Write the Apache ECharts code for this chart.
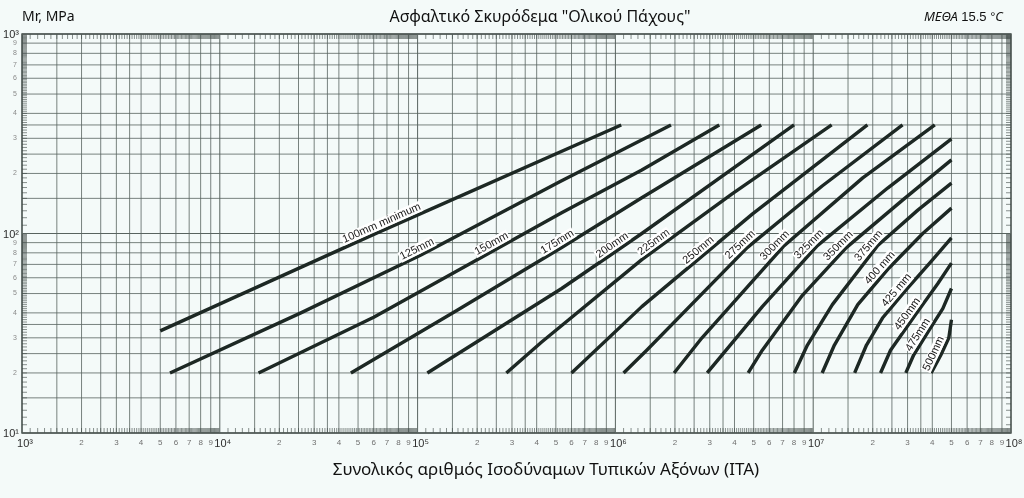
<!DOCTYPE html>
<html lang="el">
<head>
    <meta charset="UTF-8">
    <title>Ασφαλτικό Σκυρόδεμα "Ολικού Πάχους"</title>
    <script src="https://cdn.jsdelivr.net/npm/echarts@6/dist/echarts.min.js"></script>
    <style>
        html, body { margin: 0; padding: 0; background: #f4faf9; }
        #main { width: 1024px; height: 498px; }
    </style>
</head>
<body>
<div id="main"></div>
<script>
    // πάχη ασφαλτικού (ονόματα καμπυλών)
    var thickness = ['100mm minimum', '125mm', '150mm', '175mm', '200mm', '225mm', '250mm', '275mm', '300mm',
        '325mm', '350mm', '375mm', '400 mm', '425 mm', '450mm', '475mm', '500mm'];

    // καμπύλες: [ΙΤΑ, Mr (MPa)], διαβασμένα από το διάγραμμα
    var c100 = [[5000, 32.5], [60000, 99], [1.07e6, 350]];
    var c125 = [[5600, 20], [25700, 40], [1.04e5, 78], [5.2e5, 181], [1.91e6, 350]];
    var c150 = [[15700, 20], [60000, 38], [5.35e5, 127], [1.36e6, 208], [3.35e6, 350]];
    var c175 = [[46000, 20], [1.57e5, 41], [5.35e5, 85], [1.36e6, 151], [5.46e6, 350]];
    var c200 = [[1.12e5, 20], [5.35e5, 53], [1.36e6, 100], [8.0e6, 350]];
    var c225 = [[2.81e5, 20], [4.24e5, 28.6], [1.36e6, 74], [3.89e6, 158], [1.24e7, 350]];
    var c250 = [[6.0e5, 20], [1.36e6, 43], [4.92e6, 125], [1.88e7, 350]];
    var c275 = [[1.10e6, 20], [1.44e6, 26], [4.64e6, 85], [1.11e7, 173], [2.83e7, 350]];
    var c300 = [[1.98e6, 20], [2.74e6, 30], [7.06e6, 86], [1.78e7, 190], [4.12e7, 350]];
    var c325 = [[2.91e6, 20], [5.53e6, 43], [1.05e7, 87], [2.38e7, 169], [5.0e7, 298]];
    var c350 = [[4.69e6, 20], [5.53e6, 26], [8.82e6, 49], [1.47e7, 85], [2.83e7, 147], [5.0e7, 234]];
    var c375 = [[8.03e6, 20], [9.35e6, 27.6], [1.25e7, 44], [2.12e7, 87], [3.38e7, 131], [5.0e7, 179]];
    var c400 = [[1.11e7, 20], [1.28e7, 27.6], [1.68e7, 44], [2.41e7, 67], [3.58e7, 100], [5.0e7, 134]];
    var c425 = [[1.62e7, 20], [1.86e7, 27.6], [2.24e7, 37.7], [2.94e7, 52], [3.93e7, 72], [5.0e7, 95]];
    var c450 = [[2.19e7, 20], [2.46e7, 26], [3.34e7, 40], [4.26e7, 56], [5.0e7, 71]];
    var c475 = [[2.94e7, 20], [3.22e7, 24.6], [3.80e7, 32], [4.52e7, 42], [5.0e7, 53]];
    var c500 = [[3.95e7, 20], [4.42e7, 24.6], [4.85e7, 30], [5.0e7, 37]];
    var curves = [c100, c125, c150, c175, c200, c225, c250, c275, c300,
        c325, c350, c375, c400, c425, c450, c475, c500];

    // θέση (ΙΤΑ) της ετικέτας πάνω σε κάθε καμπύλη
    var labelAtX = [6.8e4, 1.03e5, 2.46e5, 5.31e5, 1.01e6, 1.64e6, 2.77e6, 4.52e6, 6.79e6,
        1.01e7, 1.42e7, 2.03e7, 2.31e7, 2.81e7, 3.20e7, 3.63e7, 4.38e7];

    // άξονες
    var xDecades = [1e3, 1e4, 1e5, 1e6, 1e7, 1e8];
    var xDecadeLabels = ['10³', '10⁴', '10⁵', '10⁶', '10⁷', '10⁸'];
    var yDecades = [10, 100, 1000];
    var yDecadeLabels = ['10¹', '10²', '10³'];
    var digitLabels = ['2', '3', '4', '5', '6', '7', '8', '9'];
    var gridSteps = [1.5, 2, 2.5, 3, 3.5, 4, 5, 6, 7, 8, 9];

    var gridColor = '#58635f';
    var frameColor = '#3c4643';
    var curveColor = '#1d2824';
    var font = '"Liberation Sans", Arial, sans-serif';

    // y τιμή της καμπύλης σε δεδομένο x (γραμμικά σε log-log, μόνο για τις ετικέτες)
    function curveY(pts, x) {
        var lx = Math.log10(x);
        var a0 = Math.log10(pts[0][0]), an = Math.log10(pts[pts.length - 1][0]);
        lx = Math.max(a0, Math.min(an, lx));
        for (var j = 0; j < pts.length - 1; j++) {
            var a = Math.log10(pts[j][0]), b = Math.log10(pts[j + 1][0]);
            if (lx >= a && lx <= b) {
                var t = (lx - a) / (b - a);
                var ya = Math.log10(pts[j][1]), yb = Math.log10(pts[j + 1][1]);
                return Math.pow(10, ya + t * (yb - ya));
            }
        }
        return pts[pts.length - 1][1];
    }

    // χαρτί log-log: γραμμές πλέγματος, χάρακες, αριθμοί αξόνων
    function renderPaper(params, api) {
        var kids = [];
        var lb = api.coord([1e3, 10]), rt = api.coord([1e8, 1000]);
        var L = lb[0], B = lb[1], R = rt[0], T = rt[1];

        function seg(x1, y1, x2, y2, w, c) {
            kids.push({
                type: 'line', silent: true,
                shape: {x1: x1, y1: y1, x2: x2, y2: y2},
                style: {stroke: c, lineWidth: w}
            });
        }

        function txt(x, y, s, size, color, align) {
            kids.push({
                type: 'text', silent: true, x: x, y: y,
                style: {
                    text: s, fill: color, font: size + 'px ' + font,
                    align: align || 'center', verticalAlign: 'middle'
                }
            });
        }

        var i, k, p;
        // κάθετες
        for (i = 0; i < xDecades.length; i++) {
            var d = xDecades[i];
            p = api.coord([d, 10])[0];
            seg(p, T, p, B, 1, gridColor);
            txt(p + 3, B + 11, xDecadeLabels[i], 11, '#2e2e2e');
            if (i === xDecades.length - 1) break;
            gridSteps.forEach(function (s) {
                var q = api.coord([d * s, 10])[0];
                seg(q, T, q, B, 0.8, gridColor);
            });
            digitLabels.forEach(function (t, n) {
                var q = api.coord([d * (n + 2), 10])[0];
                txt(q, B + 10, t, 8, '#6f6f6f');
            });
            for (k = 11; k < 100; k++) {
                p = api.coord([d * k / 10, 10])[0];
                seg(p, B, p, B - 5, 0.6, frameColor);
                seg(p, T, p, T + 5, 0.6, frameColor);
            }
        }
        // οριζόντιες
        for (i = 0; i < yDecades.length; i++) {
            var e = yDecades[i];
            p = api.coord([1e3, e])[1];
            seg(L, p, R, p, 1, gridColor);
            txt(L - 3, p + 1, yDecadeLabels[i], 11, '#2e2e2e', 'right');
            if (i === yDecades.length - 1) break;
            gridSteps.forEach(function (s) {
                var q = api.coord([1e3, e * s])[1];
                seg(L, q, R, q, 0.8, gridColor);
            });
            digitLabels.forEach(function (t, n) {
                var q = api.coord([1e3, e * (n + 2)])[1];
                txt(L - 5, q, t, 7, '#8a8a8a', 'right');
            });
            for (k = 11; k < 100; k++) {
                p = api.coord([1e3, e * k / 10])[1];
                seg(L, p, L + 5, p, 0.6, frameColor);
                seg(R, p, R - 5, p, 0.6, frameColor);
            }
        }
        return {type: 'group', children: kids};
    }

    // ετικέτες πάνω στις καμπύλες, στραμμένες κατά την κλίση
    function renderLabel(params, api) {
        var i = params.dataIndex;
        var x = api.value(0);
        var pts = curves[i];
        var p = api.coord([x, api.value(1)]);
        var p1 = api.coord([x / 1.12, curveY(pts, x / 1.12)]);
        var p2 = api.coord([x * 1.12, curveY(pts, x * 1.12)]);
        var ang = Math.atan2(p1[1] - p2[1], p2[0] - p1[0]);
        var off = 7;
        return {
            type: 'text', silent: true,
            x: p[0] - off * Math.sin(ang),
            y: p[1] - off * Math.cos(ang),
            rotation: ang,
            style: {
                text: thickness[i], fill: '#1a1a1a', font: '11px ' + font,
                align: 'center', verticalAlign: 'middle',
                backgroundColor: '#ffffff', padding: [0, 1]
            }
        };
    }

    var series = [{
        type: 'custom',
        z: 1,
        silent: true,
        renderItem: renderPaper,
        data: [[1e3, 10]]
    }];
    curves.forEach(function (pts, i) {
        series.push({
            name: thickness[i],
            type: 'line',
            z: 3,
            silent: true,
            data: pts,
            smooth: false,
            showSymbol: false,
            symbol: 'none',
            lineStyle: {color: curveColor, width: 3.4, cap: 'butt', join: 'round'}
        });
    });
    series.push({
        type: 'custom',
        z: 5,
        silent: true,
        renderItem: renderLabel,
        data: labelAtX.map(function (x, i) {
            return [x, curveY(curves[i], x)];
        })
    });

    var chart = echarts.init(document.getElementById('main'));
    chart.setOption({
        backgroundColor: '#f4faf9',
        animation: false,
        grid: {
            left: 22, right: 13, top: 34, bottom: 65,
            show: true, borderColor: frameColor, borderWidth: 1.3,
            backgroundColor: 'transparent'
        },
        xAxis: {
            type: 'log', logBase: 10, min: 1e3, max: 1e8,
            axisLine: {show: false}, axisTick: {show: false},
            axisLabel: {show: false}, splitLine: {show: false}
        },
        yAxis: {
            type: 'log', logBase: 10, min: 10, max: 1000,
            axisLine: {show: false}, axisTick: {show: false},
            axisLabel: {show: false}, splitLine: {show: false}
        },
        graphic: [
            {
                type: 'text', x: 22, y: 17,
                style: {text: 'Mr, MPa', font: '14px "Noto Sans", sans-serif', fill: '#111', verticalAlign: 'middle'}
            },
            {
                type: 'text', x: 540, y: 17,
                style: {
                    text: 'Ασφαλτικό Σκυρόδεμα "Ολικού Πάχους"', font: '16px "Noto Sans", sans-serif',
                    fill: '#111', align: 'center', verticalAlign: 'middle'
                }
            },
            {
                type: 'text', x: 1003, y: 17,
                style: {
                    text: '{i|ΜΕΘΑ} {n|15.5 °}{i|C}', align: 'right', verticalAlign: 'middle',
                    rich: {
                        i: {font: 'italic 13px "Noto Sans", sans-serif', fill: '#111'},
                        n: {font: '13px "Liberation Sans", sans-serif', fill: '#111'}
                    }
                }
            },
            {
                type: 'text', x: 546, y: 470,
                style: {
                    text: 'Συνολικός αριθμός Ισοδύναμων Τυπικών Αξόνων (ΙΤΑ)', font: '17px "Noto Sans", sans-serif',
                    fill: '#111', align: 'center', verticalAlign: 'middle'
                }
            }
        ],
        series: series
    });
</script>
</body>
</html>
